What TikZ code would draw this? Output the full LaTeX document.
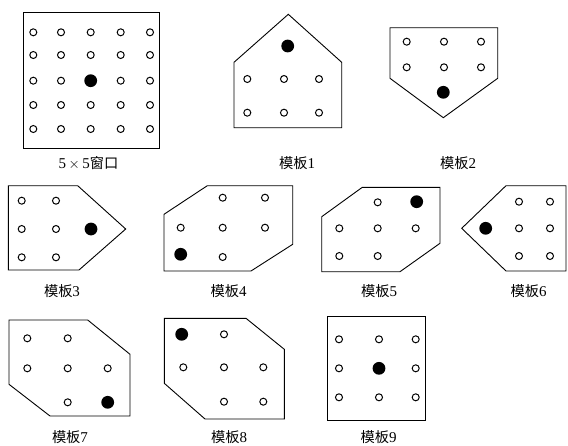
\documentclass[tikz,border=0pt]{standalone}
\usepackage{fontspec}
\setmainfont{Liberation Serif}
\newfontfamily\cjk{Noto Sans CJK SC}[Scale=0.95]
\tikzset{
  hole/.style={circle, draw, inner sep=0pt, minimum size=7pt, line width=1pt},
  dot/.style={circle, fill=black, inner sep=0pt, minimum size=12.8pt},
  frame/.style={line width=0.9pt, line join=miter},
  lab/.style={font=\fontsize{15}{17}\selectfont, inner sep=0pt, anchor=center}
}
\newcommand{\mb}{{\cjk 模板}}
\begin{document}
\begin{tikzpicture}[x=1pt,y=-1pt]
\useasboundingbox (0,0) rectangle (568,445);
% 5x5 window
\draw[frame] (23.3,12.7) rectangle (159,148.3);
\foreach \x in {33.3,61,90.7,120.7,150}
  \foreach \y in {32.3,55,80.7,105,129}
    {\ifdim \x pt=90.7pt \ifdim \y pt=80.7pt \else \node[hole] at (\x,\y) {};\fi \else \node[hole] at (\x,\y) {};\fi}
\node[dot] (w0) at (90.7,80.7) {};
\node[lab] (l0) at (88.5,163) {5\,$\times$\,5{\cjk 窗口}};
% template 1
\draw[frame] (288.3,14.3) -- (341.7,62.3) -- (341.7,127.7) -- (234,127.7) -- (234,62.3) -- cycle;
\node[dot] (d1) at (287.7,46) {};
\foreach \x in {247.3,284,319} \foreach \y in {79,112.7} \node[hole] at (\x,\y) {};
\node[lab] (l1) at (297,163) {\mb 1};
% template 2
\draw[frame] (390,27.7) -- (497.7,27.7) -- (497.7,78.3) -- (443.3,117.7) -- (390,78.3) -- cycle;
\node[dot] (d2) at (443.3,92.3) {};
\foreach \x in {406.7,444,481} \foreach \y in {41.7,67.3} \node[hole] at (\x,\y) {};
\node[lab] (l2) at (458,163) {\mb 2};
% template 3
\draw[frame] (8.3,185.7) -- (77.7,185.7) -- (125.7,229) -- (79,270) -- (8.3,270) -- cycle;
\node[dot] (d3) at (91,229) {};
\foreach \x in {21.7,56} \foreach \y in {200.7,229,257.3} \node[hole] at (\x,\y) {};
\node[lab] (l3) at (62,291.5) {\mb 3};
% template 4
\draw[frame] (207.3,185.7) -- (292.7,185.7) -- (292.7,244.3) -- (251,271) -- (164,271) -- (164,214.3) -- cycle;
\node[dot] (d4) at (180.7,254.3) {};
\foreach \p in {(222.7,197.7),(265,197.7),(180.7,227.7),(222.7,227.7),(265,227.7),(222.7,257)} \node[hole] at \p {};
\node[lab] (l4) at (228.5,291.5) {\mb 4};
% template 5
\draw[frame] (362.3,187.3) -- (440,187.3) -- (440,243.3) -- (400,271.7) -- (321.7,271.7) -- (321.7,216.7) -- cycle;
\node[dot] (d5) at (416.7,201.7) {};
\foreach \p in {(377.7,202.3),(339.3,228.3),(377.7,228.3),(415.7,228.3),(339.3,256),(377.7,256)} \node[hole] at \p {};
\node[lab] (l5) at (379,291.5) {\mb 5};
% template 6
\draw[frame] (566,185.7) -- (506,185.7) -- (461.7,228.3) -- (506,271) -- (566,271) -- cycle;
\node[dot] (d6) at (485.7,228.3) {};
\foreach \x in {519,550} \foreach \y in {201.7,228.3,256} \node[hole] at (\x,\y) {};
\node[lab] (l6) at (528.5,291.5) {\mb 6};
% template 7
\draw[frame] (9,320) -- (87.7,320) -- (130,354.3) -- (130,416) -- (50,416) -- (9,384.3) -- cycle;
\node[dot] (d7) at (107.7,402.3) {};
\foreach \p in {(27.3,338.3),(67.7,338.3),(27.3,368.3),(67.7,368.3),(107.7,368.3),(67.7,402.3)} \node[hole] at \p {};
\node[lab] (l7) at (70,437.5) {\mb 7};
% template 8
\draw[frame] (164.3,318.3) -- (246,318.3) -- (284.3,349.3) -- (284.3,419) -- (205,419) -- (164.3,383.3) -- cycle;
\node[dot] (d8) at (181.7,334.3) {};
\foreach \p in {(224,334.3),(183.3,367.3),(224,367.3),(263.3,367.3),(224,401.7),(263.3,401.7)} \node[hole] at \p {};
\node[lab] (l8) at (229,437.5) {\mb 8};
% template 9
\draw[frame] (327.7,316.7) rectangle (425.7,420);
\node[dot] (d9) at (379,368.3) {};
\foreach \p in {(339,339.3),(379,339.3),(415.7,339.3),(339,368.3),(415.7,368.3),(339,397.3),(379,397.3),(415.7,397.3)} \node[hole] at \p {};
\node[lab] (l9) at (378.5,437.5) {\mb 9};
\end{tikzpicture}
\end{document}
